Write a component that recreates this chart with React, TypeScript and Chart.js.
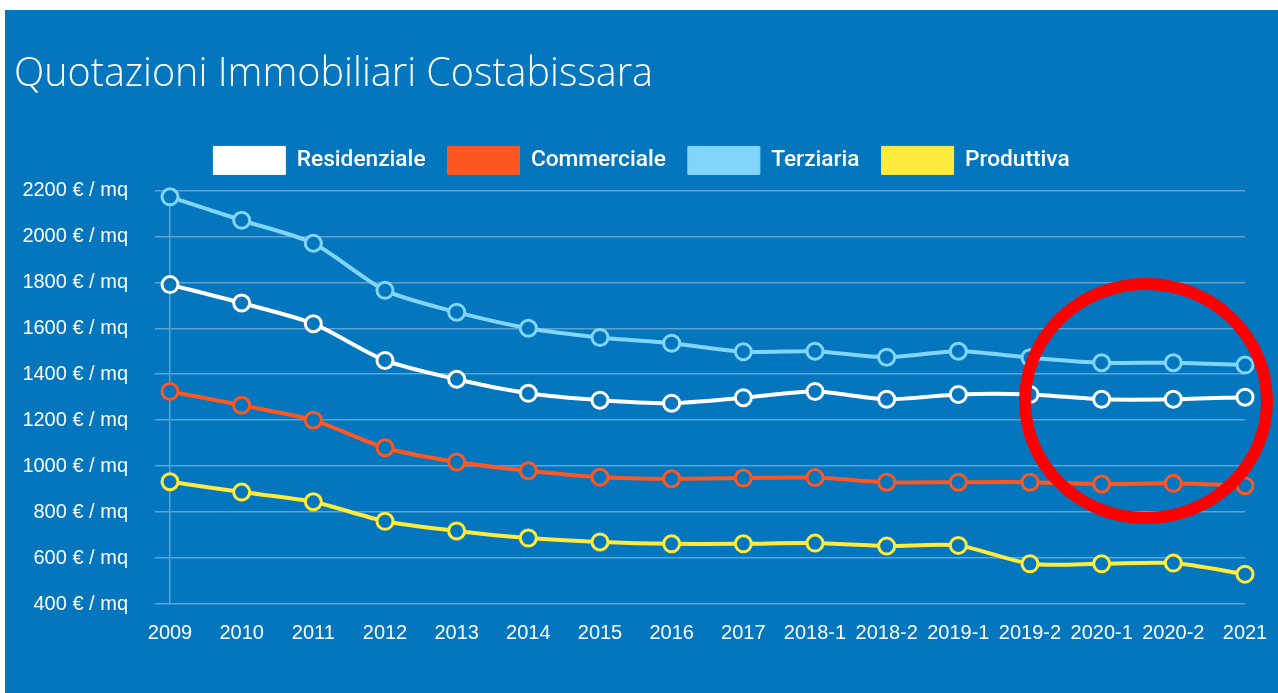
import React, { useEffect, useRef } from "react";
import { Chart, registerables, layouts } from "chart.js";

Chart.register(...registerables);

const categories = ["2009", "2010", "2011", "2012", "2013", "2014", "2015", "2016", "2017", "2018-1", "2018-2", "2019-1", "2019-2", "2020-1", "2020-2", "2021"];
const residenziale = [1790, 1710, 1620, 1460, 1378, 1317, 1287, 1274, 1298, 1325, 1291, 1312, 1312, 1291, 1291, 1300];
const commerciale = [1325, 1265, 1200, 1080, 1018, 980, 952, 945, 948, 950, 930, 930, 930, 922, 925, 915];
const terziaria = [2172, 2070, 1970, 1765, 1670, 1600, 1560, 1535, 1498, 1500, 1474, 1500, 1472, 1450, 1450, 1440];
const produttiva = [932, 887, 845, 760, 718, 687, 670, 662, 662, 665, 652, 655, 575, 575, 578, 530];
const seriesNames = ["Residenziale", "Commerciale", "Terziaria", "Produttiva"];
const seriesColors = ["#FFFFFF", "#FF5722", "#81D4FA", "#FFEB3B"];
const yTicks = [400, 600, 800, 1000, 1200, 1400, 1600, 1800, 2000, 2200];

const BLUE = "#0376BD";

const bgPlugin = {
  id: "bg",
  beforeDraw(chart: any) {
    const { ctx, width, height } = chart;
    ctx.save();
    ctx.fillStyle = "#FFFFFF";
    ctx.fillRect(0, 0, width, height);
    ctx.fillStyle = BLUE;
    ctx.fillRect(5, 10, width - 5, height - 10);
    ctx.restore();
  },
};

const circlePlugin = {
  id: "redCircle",
  afterDraw(chart: any) {
    const { ctx } = chart;
    ctx.save();
    ctx.strokeStyle = "#FF0000";
    ctx.lineWidth = 12;
    ctx.beginPath();
    ctx.ellipse(1146, 401, 121, 117, 0, 0, Math.PI * 2);
    ctx.stroke();
    ctx.restore();
  },
};

// a small spacer box between the legend and the chart area
const spacerPlugin = {
  id: "legendSpacer",
  beforeInit(chart: any) {
    const box: any = {
      position: "top",
      weight: 500,
      fullSize: true,
      options: {},
      width: 0,
      height: 0,
      left: 0,
      top: 0,
      right: 0,
      bottom: 0,
      isHorizontal() {
        return true;
      },
      update(maxWidth: number) {
        this.width = maxWidth;
        this.height = 6;
      },
      draw() {},
    };
    layouts.addBox(chart, box);
  },
  afterLayout(chart: any) {
    if (chart.legend) {
      chart.legend.left += 12;
      chart.legend.right += 12;
    }
  },
};

export default function App() {
  const ref = useRef<HTMLCanvasElement>(null);
  useEffect(() => {
    const seriesData = [residenziale, commerciale, terziaria, produttiva];
    const chart = new Chart(ref.current!, {
      type: "line",
      data: {
        labels: categories,
        datasets: seriesNames.map((name, i) => ({
          label: name,
          data: seriesData[i],
          borderColor: seriesColors[i],
          backgroundColor: seriesColors[i],
          pointBackgroundColor: BLUE,
          pointBorderColor: seriesColors[i],
          pointBorderWidth: 3,
          pointRadius: 8,
          borderWidth: 4,
          tension: 0.25,
          fill: false,
          clip: false as any,
        })),
      },
      options: {
        responsive: false,
        animation: false,
        layout: { padding: { left: 14, top: 10, right: 33, bottom: 31 } },
        plugins: {
          title: {
            display: true,
            text: "Quotazioni Immobiliari Costabissara",
            align: "start",
            color: "#FFFFFF",
            font: { family: "'Open Sans', sans-serif", size: 39.5, weight: "300" as any, lineHeight: 1.2 },
            padding: { top: 41, bottom: 26 },
          },
          legend: {
            display: true,
            labels: {
              color: "#FFFFFF",
              boxWidth: 72,
              boxHeight: 28,
              padding: 22,
              font: { family: "Roboto, sans-serif", size: 22.7, weight: "500" as any },
              generateLabels(chart: any) {
                const items = Chart.defaults.plugins.legend.labels.generateLabels(chart);
                return items.map((it: any) => ({ ...it, lineWidth: 1 }));
              },
            },
          },
          tooltip: { enabled: false },
        },
        scales: {
          x: {
            offset: false,
            grid: { display: false, drawTicks: false },
            border: { display: false },
            afterFit(scale: any) {
              scale.paddingLeft = 0;
              scale.paddingRight = 0;
            },
            ticks: {
              color: "#FFFFFF",
              padding: 17,
              maxRotation: 0,
              autoSkip: false,
              font: { family: "'Liberation Sans', Arial, sans-serif", size: 20 },
            },
          },
          y: {
            min: 400,
            max: 2200,
            afterBuildTicks(scale: any) {
              scale.ticks = yTicks.map((v) => ({ value: v }));
            },
            afterFit(scale: any) {
              scale.width = 156;
            },
            grid: {
              color: "rgba(255,255,255,0.35)",
              lineWidth: 1.5,
              tickLength: 15,
            },
            border: { display: true, color: "rgba(255,255,255,0.35)", width: 1.5 },
            ticks: {
              color: "#FFFFFF",
              padding: 27,
              font: { family: "'Liberation Sans', Arial, sans-serif", size: 20 },
              callback: (v: any) => `${v} € / mq`,
            },
          },
        },
      },
      plugins: [bgPlugin, spacerPlugin, circlePlugin],
    });
    return () => chart.destroy();
  }, []);
  return (
    <div style={{ position: "absolute", left: 0, top: 0, width: 1278, height: 693 }}>
      <canvas ref={ref} width={1278} height={693} />
    </div>
  );
}
